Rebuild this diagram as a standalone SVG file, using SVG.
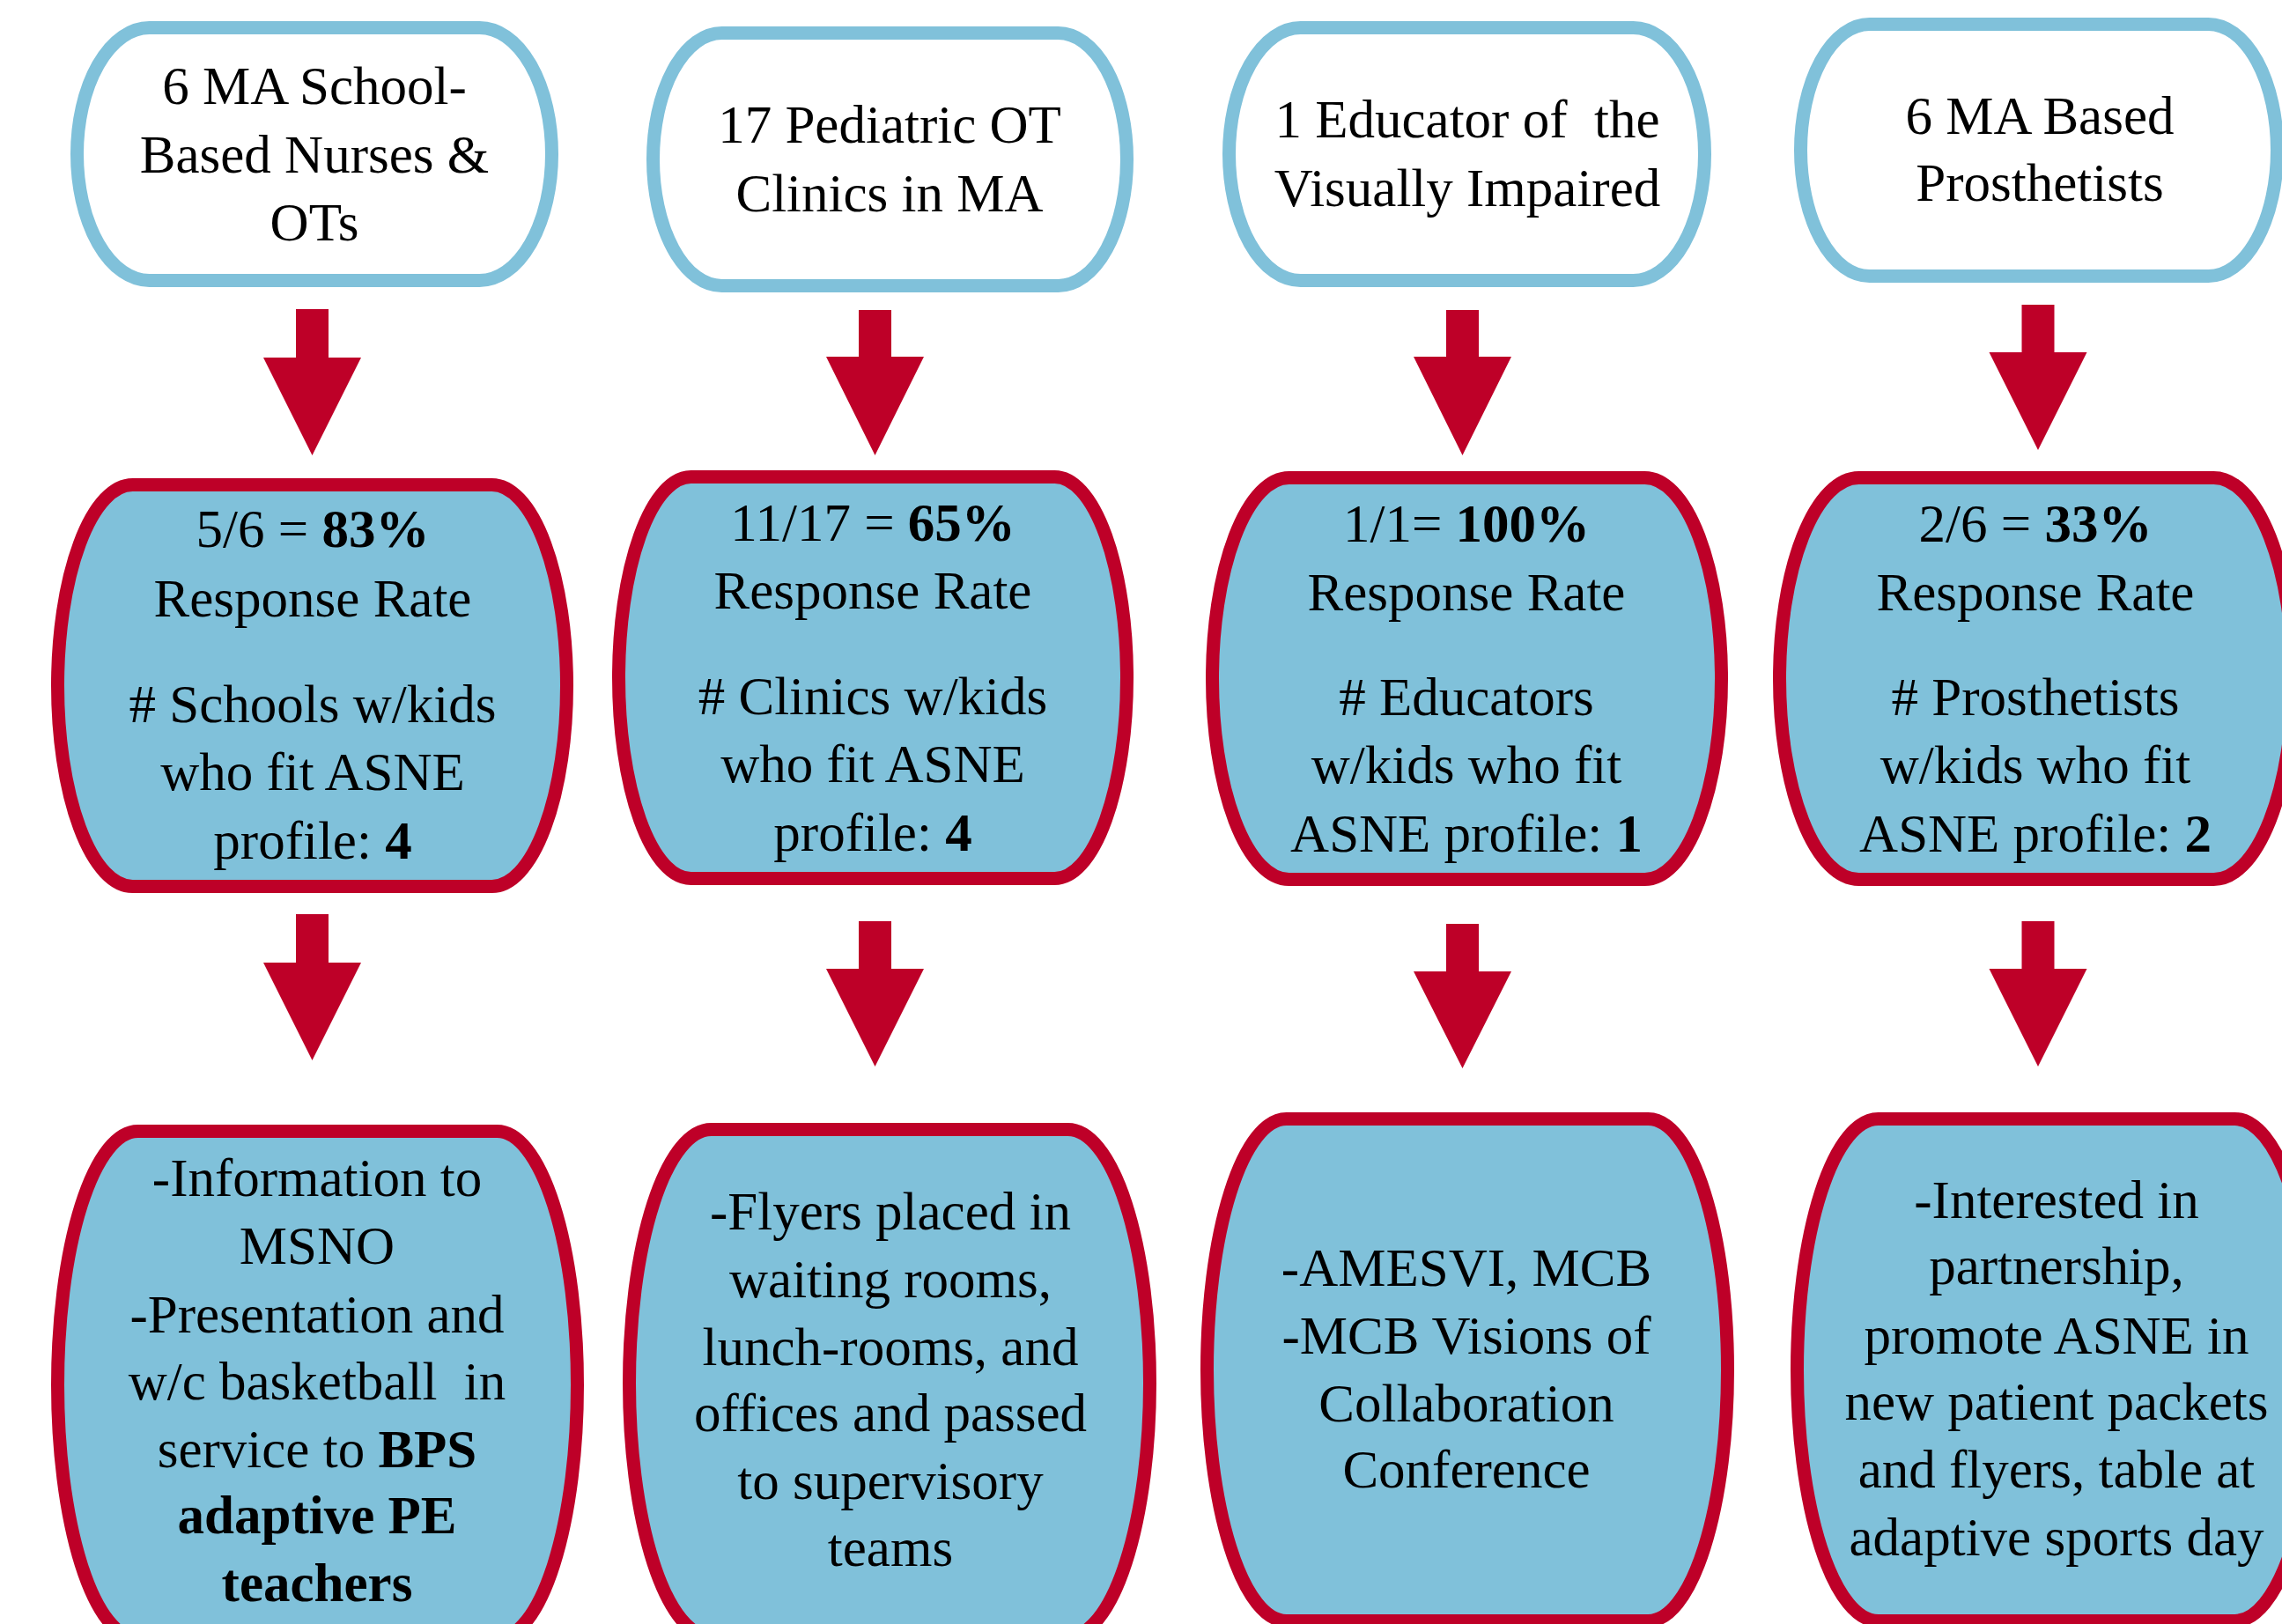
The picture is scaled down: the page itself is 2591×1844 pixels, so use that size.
<svg xmlns="http://www.w3.org/2000/svg" width="2591" height="1844" viewBox="0 0 2591 1844">
<style>
  .src { fill: #FFFFFF; stroke: #80C1DA; stroke-width: 15; }
  .box { fill: #80C1DA; stroke: #BE0028; stroke-width: 15; }
  .arrow { fill: #BE0028; stroke: none; }
  text { font-family: "Liberation Serif", "Times New Roman", serif; font-size: 61px; fill: #000000; text-anchor: middle; white-space: pre; }
  .b { font-weight: bold; }
</style>
<rect width="2591" height="1844" fill="#FFFFFF"/>

<g id="connectors">
  <polygon class="arrow" points="336,351 373,351 373,406 410,406 354.5,517 299,406 336,406"/>
  <polygon class="arrow" points="975,352 1012,352 1012,405 1049,405 993.5,517 938,405 975,405"/>
  <polygon class="arrow" points="1642,352 1679,352 1679,405 1716,405 1660.5,517 1605,405 1642,405"/>
  <polygon class="arrow" points="2295.5,346 2332.5,346 2332.5,400 2369.5,400 2314,511 2258.5,400 2295.5,400"/>
  <polygon class="arrow" points="336,1038 373,1038 373,1093 410,1093 354.5,1204 299,1093 336,1093"/>
  <polygon class="arrow" points="975,1046 1012,1046 1012,1100 1049,1100 993.5,1211 938,1100 975,1100"/>
  <polygon class="arrow" points="1642,1049 1679,1049 1679,1103 1716,1103 1660.5,1213 1605,1103 1642,1103"/>
  <polygon class="arrow" points="2295.5,1046 2332.5,1046 2332.5,1100 2369.5,1100 2314,1211 2258.5,1100 2295.5,1100"/>
</g>

<g id="node-school-nurses">
  <rect class="src" x="87.5" y="31.5" width="539" height="287" rx="82" ry="143.5"/>
  <text x="357" y="118">6 MA School-</text>
  <text x="357" y="196">Based Nurses &amp;</text>
  <text x="357" y="273">OTs</text>
</g>
<g id="node-ot-clinics">
  <rect class="src" x="741.5" y="37.5" width="538" height="287" rx="78" ry="143.5"/>
  <text x="1010" y="162">17 Pediatric OT</text>
  <text x="1010" y="240">Clinics in MA</text>
</g>
<g id="node-educator">
  <rect class="src" x="1395.5" y="31.5" width="540" height="287" rx="81" ry="143.5"/>
  <text x="1666" y="156">1 Educator of  the</text>
  <text x="1666" y="234">Visually Impaired</text>
</g>
<g id="node-prosthetists">
  <rect class="src" x="2044.5" y="27.5" width="541" height="286" rx="78" ry="143"/>
  <text x="2316" y="152">6 MA Based</text>
  <text x="2316" y="228">Prosthetists</text>
</g>

<g id="node-rate-schools">
  <rect class="box" x="65.5" y="550.5" width="578" height="456" rx="85" ry="228"/>
  <text x="355" y="621">5/6 = <tspan class="b">83%</tspan></text>
  <text x="355" y="700">Response Rate</text>
  <text x="355" y="820"># Schools w/kids</text>
  <text x="355" y="897">who fit ASNE</text>
  <text x="355" y="975">profile: <tspan class="b">4</tspan></text>
</g>
<g id="node-rate-clinics">
  <rect class="box" x="702.5" y="541.5" width="577" height="456" rx="82" ry="228"/>
  <text x="991" y="614">11/17 = <tspan class="b">65%</tspan></text>
  <text x="991" y="691">Response Rate</text>
  <text x="991" y="811"># Clinics w/kids</text>
  <text x="991" y="888">who fit ASNE</text>
  <text x="991" y="966">profile: <tspan class="b">4</tspan></text>
</g>
<g id="node-rate-educators">
  <rect class="box" x="1376.5" y="542.5" width="578" height="456" rx="87" ry="228"/>
  <text x="1665" y="615">1/1= <tspan class="b">100%</tspan></text>
  <text x="1665" y="693">Response Rate</text>
  <text x="1665" y="812"># Educators</text>
  <text x="1665" y="889">w/kids who fit</text>
  <text x="1665" y="967">ASNE profile: <tspan class="b">1</tspan></text>
</g>
<g id="node-rate-prosthetists">
  <rect class="box" x="2020.5" y="542.5" width="583" height="456" rx="90" ry="228"/>
  <text x="2311" y="615">2/6 = <tspan class="b">33%</tspan></text>
  <text x="2311" y="693">Response Rate</text>
  <text x="2311" y="812"># Prosthetists</text>
  <text x="2311" y="889">w/kids who fit</text>
  <text x="2311" y="967">ASNE profile: <tspan class="b">2</tspan></text>
</g>

<g id="node-outreach-schools">
  <rect class="box" x="65.5" y="1284.5" width="590" height="576" rx="91" ry="288"/>
  <text x="360" y="1358">-Information to</text>
  <text x="360" y="1435">MSNO</text>
  <text x="360" y="1513">-Presentation and</text>
  <text x="360" y="1589">w/c basketball  in</text>
  <text x="360" y="1666">service to <tspan class="b">BPS</tspan></text>
  <text x="360" y="1741" class="b">adaptive PE</text>
  <text x="360" y="1818" class="b">teachers</text>
</g>
<g id="node-outreach-clinics">
  <rect class="box" x="714.5" y="1282.5" width="591" height="576" rx="93" ry="288"/>
  <text x="1011" y="1396">-Flyers placed in</text>
  <text x="1011" y="1473">waiting rooms,</text>
  <text x="1011" y="1550">lunch-rooms, and</text>
  <text x="1011" y="1625">offices and passed</text>
  <text x="1011" y="1702">to supervisory</text>
  <text x="1011" y="1778">teams</text>
</g>
<g id="node-outreach-educators">
  <rect class="box" x="1370.5" y="1270.5" width="591" height="570" rx="90" ry="285"/>
  <text x="1665" y="1460">-AMESVI, MCB</text>
  <text x="1665" y="1537">-MCB Visions of</text>
  <text x="1665" y="1614">Collaboration</text>
  <text x="1665" y="1689">Conference</text>
</g>
<g id="node-outreach-prosthetists">
  <rect class="box" x="2040.5" y="1270.5" width="589" height="570" rx="92" ry="285"/>
  <text x="2335" y="1383">-Interested in</text>
  <text x="2335" y="1458">partnership,</text>
  <text x="2335" y="1537">promote ASNE in</text>
  <text x="2335" y="1612">new patient packets</text>
  <text x="2335" y="1689">and flyers, table at</text>
  <text x="2335" y="1766">adaptive sports day</text>
</g>
</svg>
